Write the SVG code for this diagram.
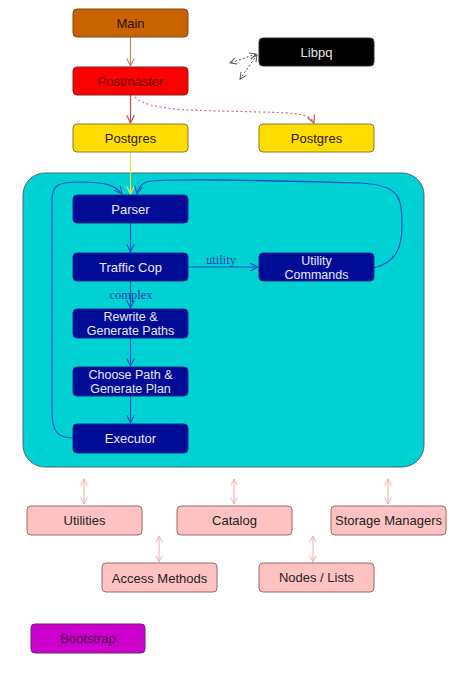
<svg xmlns="http://www.w3.org/2000/svg" width="462" height="674" viewBox="0 0 462 674">
<defs>
<style>
.t{font-family:"Liberation Sans",Arial,sans-serif;font-size:13px;text-anchor:middle}
.t2{font-family:"Liberation Sans",Arial,sans-serif;font-size:12.5px;text-anchor:middle}
.lbl{font-family:"Liberation Serif","Times New Roman",serif;font-size:12.5px;fill:#1a3fa8;text-anchor:middle}
.blue{fill:#000c96;stroke:#1a2a80}
.pink{fill:#ffc2c2;stroke:#9a6b6b}
.bl{stroke:#1f4fbf;stroke-width:1.2;fill:none}
</style>
<marker id="ab" viewBox="0 0 10 10" refX="9" refY="5" markerWidth="8" markerHeight="8" orient="auto"><path d="M1,1 L9,5 L1,9" fill="none" stroke="#1f4fbf" stroke-width="1.2"/></marker>
<marker id="ay" viewBox="0 0 10 10" refX="9" refY="5" markerWidth="8" markerHeight="8" orient="auto"><path d="M1,1 L9,5 L1,9" fill="none" stroke="#e6e64a" stroke-width="1.2"/></marker>
<marker id="abr" viewBox="0 0 10 10" refX="9" refY="5" markerWidth="8" markerHeight="8" orient="auto"><path d="M1,1 L9,5 L1,9" fill="none" stroke="#c8876a" stroke-width="1.2"/></marker>
<marker id="ar" viewBox="0 0 10 10" refX="9" refY="5" markerWidth="8" markerHeight="8" orient="auto"><path d="M1,1 L9,5 L1,9" fill="none" stroke="#cc4a4a" stroke-width="1.2"/></marker>
<marker id="ag" viewBox="0 0 10 10" refX="9" refY="5" markerWidth="8" markerHeight="8" orient="auto-start-reverse"><path d="M1,1 L9,5 L1,9" fill="none" stroke="#555" stroke-width="1.2"/></marker>
<marker id="ap" viewBox="0 0 10 10" refX="9" refY="5" markerWidth="8" markerHeight="8" orient="auto-start-reverse"><path d="M1,1 L9,5 L1,9" fill="none" stroke="#f4aaaa" stroke-width="1.2"/></marker>
</defs>
<rect width="462" height="674" fill="#ffffff"/>

<g id="backend">
<rect x="23" y="173" width="401" height="294" rx="22" fill="#00d2d4" stroke="#4a6a6a" stroke-width="1"/>
</g>

<g id="connectors">
<line x1="130.5" y1="37" x2="130.5" y2="66" stroke="#c8876a" stroke-width="1.2" marker-end="url(#abr)"/>
<line x1="130.5" y1="95" x2="130.5" y2="123" stroke="#cc4a4a" stroke-width="1.2" marker-end="url(#ar)"/>
<path d="M135,97 C150,112 200,110 260,112 C300,113 310,114 314,123" fill="none" stroke="#dd6a6a" stroke-width="1.2" stroke-dasharray="2,2.5" marker-end="url(#ar)"/>
<line x1="256" y1="54" x2="230" y2="63" stroke="#555" stroke-width="1" stroke-dasharray="2,2" marker-start="url(#ag)" marker-end="url(#ag)"/>
<line x1="257" y1="55" x2="240" y2="79" stroke="#555" stroke-width="1" stroke-dasharray="2,2" marker-start="url(#ag)" marker-end="url(#ag)"/>
<line x1="130.5" y1="152" x2="130.5" y2="194" stroke="#e6e64a" stroke-width="1.2" marker-end="url(#ay)"/>
<line x1="130.5" y1="223" x2="130.5" y2="252" class="bl" marker-end="url(#ab)"/>
<line x1="188" y1="267" x2="258" y2="267" class="bl" marker-end="url(#ab)"/>
<line x1="130.5" y1="281" x2="130.5" y2="308" class="bl" marker-end="url(#ab)"/>
<line x1="130.5" y1="338" x2="130.5" y2="366" class="bl" marker-end="url(#ab)"/>
<line x1="130.5" y1="396" x2="130.5" y2="423" class="bl" marker-end="url(#ab)"/>
<path d="M73,438 C56,438 52,430 52,410 L52,200 C52,185 58,182 80,182 C105,182 115,185 122,194" class="bl" marker-end="url(#ab)"/>
<path d="M374,268 C395,262 402,250 402,225 C402,195 398,185 360,183 C250,180 160,178 146,182 C140,185 138,189 137,194" class="bl" marker-end="url(#ab)"/>
<text x="221" y="264" class="lbl">utility</text>
<text x="131" y="299" class="lbl">complex</text>
<line x1="84" y1="479" x2="84" y2="504" stroke="#f4aaaa" stroke-width="1" marker-start="url(#ap)" marker-end="url(#ap)"/>
<line x1="234" y1="479" x2="234" y2="504" stroke="#f4aaaa" stroke-width="1" marker-start="url(#ap)" marker-end="url(#ap)"/>
<line x1="388" y1="479" x2="388" y2="504" stroke="#f4aaaa" stroke-width="1" marker-start="url(#ap)" marker-end="url(#ap)"/>
<line x1="159" y1="536" x2="159" y2="562" stroke="#f4aaaa" stroke-width="1" marker-start="url(#ap)" marker-end="url(#ap)"/>
<line x1="313" y1="536" x2="313" y2="562" stroke="#f4aaaa" stroke-width="1" marker-start="url(#ap)" marker-end="url(#ap)"/>
</g>

<g id="main"><rect x="73" y="9" width="115" height="28" rx="4" fill="#c86400" stroke="#7a4a20"/><text x="130.5" y="27.5" class="t" fill="#2a1000">Main</text></g>
<g id="postmaster"><rect x="73" y="67" width="115" height="28" rx="4" fill="#ff0000" stroke="#8a2020"/><text x="130.5" y="85.5" class="t" fill="#6a0000">Postmaster</text></g>
<g id="postgres1"><rect x="73" y="124" width="115" height="28" rx="4" fill="#ffdd00" stroke="#8a7a30"/><text x="130.5" y="142.5" class="t" fill="#2a2000">Postgres</text></g>
<g id="postgres2"><rect x="259" y="124" width="115" height="28" rx="4" fill="#ffdd00" stroke="#8a7a30"/><text x="316.5" y="142.5" class="t" fill="#2a2000">Postgres</text></g>
<g id="libpq"><rect x="259" y="38" width="115" height="28" rx="4" fill="#000000" stroke="#333"/><text x="316.5" y="56.5" class="t" fill="#e8e8e8">Libpq</text></g>

<g id="parser"><rect x="73" y="195" width="115" height="28" rx="4" class="blue"/><text x="130.5" y="213.5" class="t" fill="#e8e8ff">Parser</text></g>
<g id="trafficcop"><rect x="73" y="253" width="115" height="28" rx="4" class="blue"/><text x="130.5" y="271.5" class="t" fill="#e8e8ff">Traffic Cop</text></g>
<g id="utilitycommands"><rect x="259" y="253" width="115" height="28" rx="4" class="blue"/><text x="316.5" y="265" class="t2" fill="#e8e8ff">Utility</text><text x="316.5" y="278.5" class="t2" fill="#e8e8ff">Commands</text></g>
<g id="rewrite"><rect x="73" y="309" width="115" height="29" rx="4" class="blue"/><text x="130.5" y="321" class="t2" fill="#e8e8ff">Rewrite &amp;</text><text x="130.5" y="334.5" class="t2" fill="#e8e8ff">Generate Paths</text></g>
<g id="choosepath"><rect x="73" y="367" width="115" height="29" rx="4" class="blue"/><text x="130.5" y="379" class="t2" fill="#e8e8ff">Choose Path &amp;</text><text x="130.5" y="392.5" class="t2" fill="#e8e8ff">Generate Plan</text></g>
<g id="executor"><rect x="73" y="424" width="115" height="29" rx="4" class="blue"/><text x="130.5" y="443" class="t" fill="#e8e8ff">Executor</text></g>

<g id="utilities"><rect x="27" y="506" width="115" height="29" rx="4" class="pink"/><text x="84.5" y="525" class="t" fill="#222">Utilities</text></g>
<g id="catalog"><rect x="177" y="506" width="115" height="29" rx="4" class="pink"/><text x="234.5" y="524.5" class="t" fill="#222">Catalog</text></g>
<g id="storagemanagers"><rect x="331" y="506" width="115" height="29" rx="4" class="pink"/><text x="388.5" y="525" class="t" fill="#222">Storage Managers</text></g>
<g id="accessmethods"><rect x="102" y="563" width="115" height="29" rx="4" class="pink"/><text x="159.5" y="582.5" class="t" fill="#222">Access Methods</text></g>
<g id="nodeslists"><rect x="259" y="563" width="115" height="29" rx="4" class="pink"/><text x="316.5" y="581.5" class="t" fill="#222">Nodes / Lists</text></g>
<g id="bootstrap"><rect x="31" y="624" width="114" height="29" rx="4" fill="#cc00cc" stroke="#6a206a"/><text x="88" y="643" class="t" fill="#4a004a">Bootstrap</text></g>
</svg>
